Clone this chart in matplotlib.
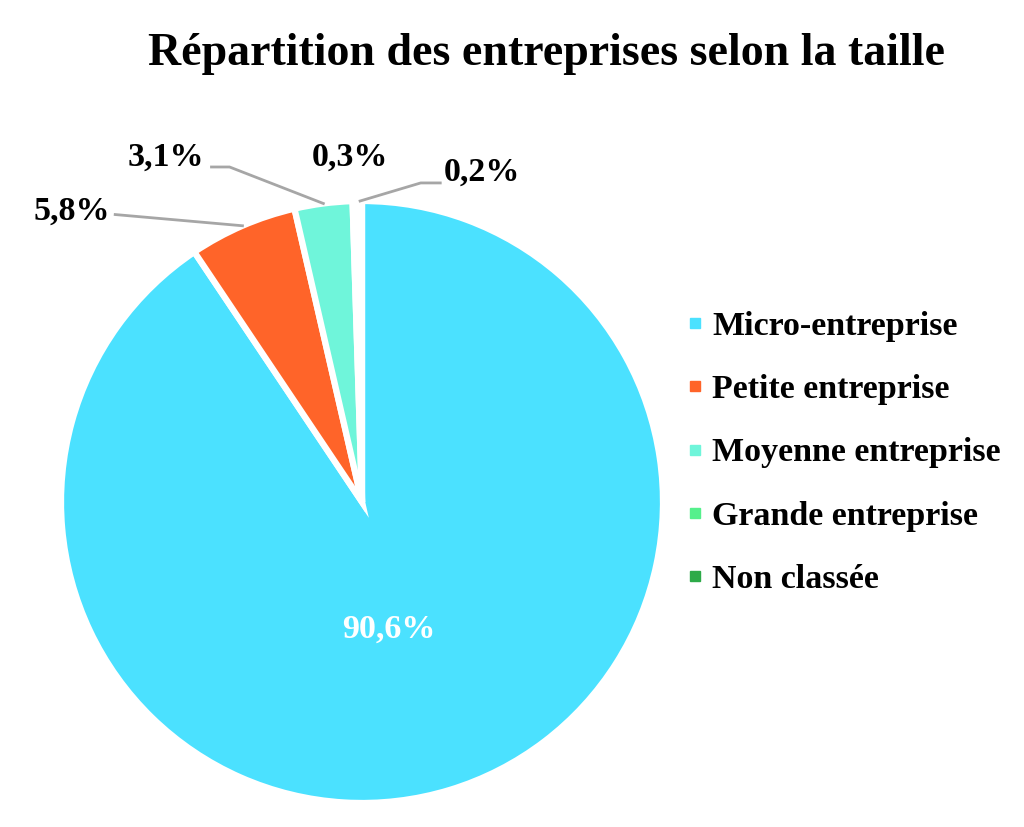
import matplotlib
matplotlib.use("Agg")
import matplotlib.pyplot as plt
from matplotlib.lines import Line2D
import numpy as np

categories = ["Micro-entreprise", "Petite entreprise", "Moyenne entreprise",
              "Grande entreprise", "Non classée"]
values = [90.6, 5.8, 3.1, 0.3, 0.2]
labels = ["90,6%", "5,8%", "3,1%", "0,3%", "0,2%"]
colors = ["#4BE1FF", "#FF6429", "#6FF5DA", "#55F08C", "#2DAA48"]
title = "Répartition des entreprises selon la taille"

W, H = 1024, 827
fig = plt.figure(figsize=(W / 100, H / 100), dpi=100)
font = "Liberation Serif"

cx, cy, R = 362, 502, 301
ax = fig.add_axes([(cx - R) / W, (H - cy - R) / H, 2 * R / W, 2 * R / H])
wedges, _ = ax.pie(values, colors=colors, startangle=90, counterclock=False,
                   radius=1.0,
                   wedgeprops=dict(edgecolor="white", linewidth=4.5))
ax.set_xlim(-1, 1)
ax.set_ylim(-1, 1)
ax.set_aspect("equal")
ax.axis("off")

def mid(w):
    return np.deg2rad((w.theta1 + w.theta2) / 2)

def pt(w, r):
    a = mid(w)
    return r * np.cos(a), r * np.sin(a)

tk = dict(fontfamily=font, fontweight="bold", fontsize=24.5, ha="center", va="center")
lc = dict(color="#A6A6A6", lw=2, clip_on=False)

# 90,6% inside
x, y = pt(wedges[0], 0.43)
ax.text(x - 0.035, y - 0.01, labels[0], color="white", **tk)

# 5,8%
x0, y0 = pt(wedges[1], 1.0)
ax.plot([x0, -0.82], [y0, 0.955], **lc)
ax.text(-0.965, 0.965, labels[1], color="black", clip_on=False, **tk)

# 3,1%
x0, y0 = pt(wedges[2], 1.0)
ax.plot([x0, -0.44, -0.50], [y0, 1.113, 1.113], **lc)
ax.text(-0.65, 1.145, labels[2], color="black", clip_on=False, **tk)

# 0,3%
ax.text(-0.04, 1.145, labels[3], color="black", clip_on=False, **tk)

# 0,2%
x0, y0 = pt(wedges[4], 1.0)
ax.plot([x0, 0.195, 0.26], [y0, 1.06, 1.06], **lc)
ax.text(0.40, 1.095, labels[4], color="black", clip_on=False, **tk)

# title
fig.text(546 / W, 1 - 54 / H, title, fontfamily=font, fontweight="bold",
         fontsize=33, ha="center", va="center")

handles = [Line2D([], [], marker="s", linestyle="none", markersize=7,
                  markerfacecolor=c, markeredgecolor=c) for c in colors]
leg = fig.legend(handles, categories, loc="center left",
                 bbox_to_anchor=(686 / W, 1 - 453 / H), frameon=False,
                 prop=dict(family=font, weight="bold", size=24.5),
                 handlelength=0.5, handletextpad=0.27, labelspacing=0.95,
                 borderaxespad=0, borderpad=0)

fig.savefig("out.png", dpi=100, facecolor="white")
